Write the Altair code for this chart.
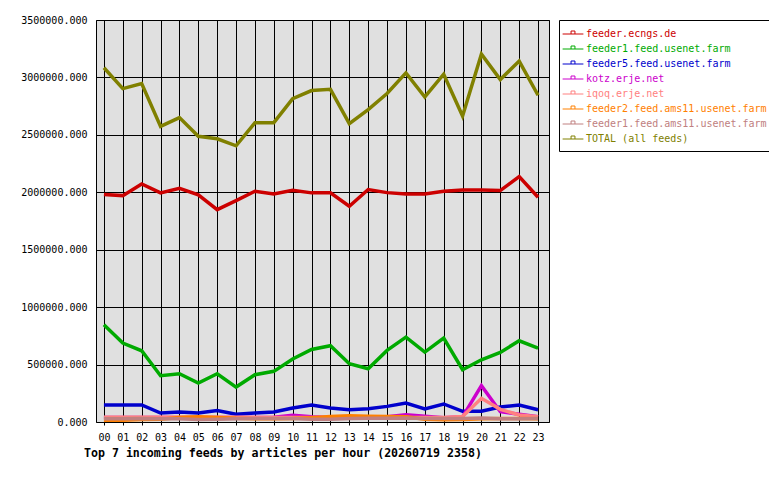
import altair as alt
import pandas as pd

# hourly article counts per incoming feed
hours = list(range(24))

feeds = [
    "feeder.ecngs.de",
    "feeder1.feed.usenet.farm",
    "feeder5.feed.usenet.farm",
    "kotz.erje.net",
    "iqoq.erje.net",
    "feeder2.feed.ams11.usenet.farm",
    "feeder1.feed.ams11.usenet.farm",
    "TOTAL (all feeds)",
]
colors = ["#cc0000", "#00aa00", "#0000cc", "#cc00cc", "#ff8080", "#ff8000", "#c08080", "#808000"]

ecngs = [1980000, 1971000, 2073000, 1995000, 2035000, 1977000, 1849000, 1928000, 2009000, 1986000, 2018000, 1995000,
         1995000, 1878000, 2024000, 1997000, 1986000, 1986000, 2009000, 2020000, 2020000, 2015000, 2137000, 1957000]
usenet1 = [846000, 687000, 620000, 403000, 420000, 339000, 420000, 304000, 412000, 441000, 548000, 632000,
           664000, 507000, 464000, 623000, 739000, 609000, 730000, 455000, 542000, 606000, 707000, 644000]
usenet5 = [148000, 148000, 148000, 78000, 87000, 78000, 99000, 67000, 78000, 87000, 122000, 148000,
           122000, 107000, 116000, 136000, 165000, 113000, 157000, 93000, 93000, 130000, 148000, 107000]
kotz = [40000, 40000, 40000, 40000, 40000, 40000, 40000, 40000, 40000, 42000, 58000, 45000,
        40000, 40000, 40000, 45000, 62000, 50000, 38000, 45000, 316000, 90000, 67000, 46000]
iqoq = [42000, 42000, 42000, 42000, 42000, 42000, 42000, 42000, 40000, 40000, 40000, 40000,
        40000, 40000, 40000, 40000, 40000, 40000, 40000, 48000, 206000, 110000, 61000, 46000]
ams11_2 = [15000, 15000, 22000, 25000, 40000, 45000, 40000, 32000, 28000, 28000, 30000, 38000,
           48000, 55000, 50000, 48000, 45000, 25000, 20000, 22000, 28000, 30000, 30000, 28000]
ams11_1 = [28000, 28000, 30000, 28000, 28000, 22000, 25000, 28000, 30000, 30000, 30000, 25000,
           25000, 30000, 33000, 33000, 35000, 30000, 30000, 30000, 35000, 28000, 28000, 30000]
total = [3084000, 2903000, 2947000, 2574000, 2650000, 2487000, 2466000, 2405000, 2606000, 2606000, 2816000, 2886000,
         2896000, 2597000, 2720000, 2860000, 3040000, 2830000, 3028000, 2664000, 3203000, 2982000, 3142000, 2845000]

series = [ecngs, usenet1, usenet5, kotz, iqoq, ams11_2, ams11_1, total]
y_ticks = [0, 500000, 1000000, 1500000, 2000000, 2500000, 3000000, 3500000]

rows = []
for name, vals in zip(feeds, series):
    for h, v in zip(hours, vals):
        rows.append({"feed": name, "hour": h, "articles": v})
df = pd.DataFrame(rows)

mono = "DejaVu Sans Mono"

legend = alt.Legend(
    orient="none", legendX=463, legendY=0, direction="vertical", title=None,
    strokeColor="black", fillColor="white", padding=7, cornerRadius=0,
    symbolType="M-1.6,0H1.6M-0.3,0V-0.46H0.3V0", symbolSize=169,
    symbolStrokeWidth=1, symbolFillColor="transparent",
    labelFont=mono, labelFontSize=10, labelOffset=6, labelLimit=300,
    rowPadding=3, labelColor={"expr": "scale('color', datum.value)"},
)

chart = alt.Chart(df).mark_line(strokeWidth=3.5).encode(
    x=alt.X("hour:Q", scale=alt.Scale(domain=[-0.42, 23.58], nice=False, zero=False),
            axis=alt.Axis(values=hours, format="02d", title=None, domain=False,
                          tickSize=3, tickColor="black", labelPadding=7,
                          labelFont=mono, labelFontSize=10, labelColor="black",
                          labelFlush=False, labelOverlap=False,
                          gridColor="black", gridOpacity=1)),
    y=alt.Y("articles:Q", scale=alt.Scale(domain=[0, 3500000], nice=False),
            axis=alt.Axis(values=y_ticks, format=".3f", title=None, domain=False,
                          ticks=False, labelPadding=9,
                          labelFont=mono, labelFontSize=10, labelColor="black",
                          gridColor="black", gridOpacity=1)),
    color=alt.Color("feed:N", scale=alt.Scale(domain=feeds, range=colors), legend=legend),
).properties(
    width=453,
    height=402,
    autosize=alt.AutoSizeParams(type="none"),
    padding={"left": 88, "top": 12, "right": 220, "bottom": 45},
    title=alt.TitleParams(
        "Top 7 incoming feeds by articles per hour (20260719 2358)",
        orient="bottom", anchor="start", frame="group", dx=-12, offset=6,
        font=mono, fontSize=11.6, fontWeight="bold", color="black",
    ),
).configure_view(
    fill="#e0e0e0", stroke="black", strokeWidth=1
)

chart.save("out.html", embed_options={"renderer": "svg", "actions": False})
